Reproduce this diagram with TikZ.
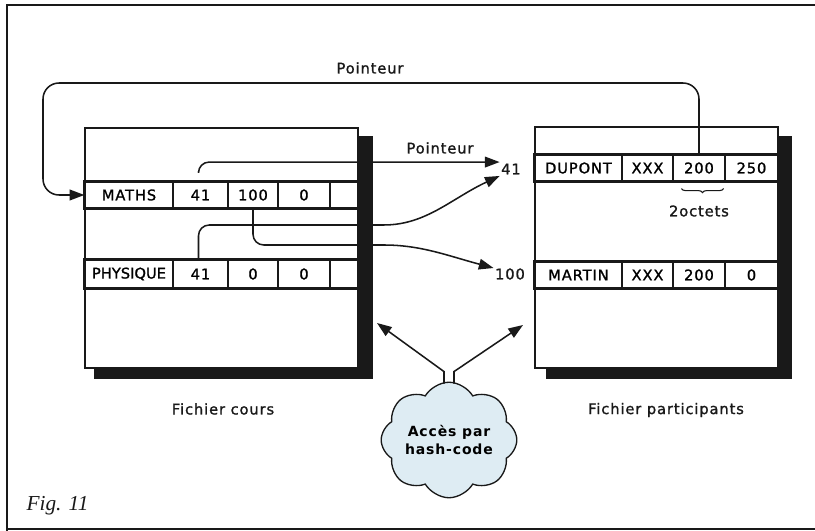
\documentclass[tikz,border=0pt]{standalone}
\usepackage{fontspec}
\setmainfont{DejaVu Sans}[LetterSpace=6, UprightFeatures={FakeBold=1.3}]
\newfontfamily\figfont{Liberation Serif}
\usetikzlibrary{arrows.meta,shapes.symbols,decorations.pathreplacing,calc}
\definecolor{ink}{RGB}{25,25,25}
\definecolor{cloudblue}{RGB}{222,236,243}
\begin{document}
\begin{tikzpicture}[x=0.75pt,y=-0.75pt,
  font=\fontsize{11}{13}\selectfont,
  cell/.style={draw=ink, line width=0.9pt, inner sep=0pt, minimum height={26*0.75pt}},
  rowline/.style={draw=ink, line width=1.8pt},
  filebox/.style={draw=ink, fill=white, line width=1.3pt, inner sep=0pt},
  shadow/.style={fill=ink},
  conn/.style={draw=ink, line width=1.15pt, -{Triangle[length=11pt,width=8pt]}},
  lab/.style={inner sep=1pt, text=ink}]
\useasboundingbox (0,0) rectangle (815,531);
% frame
\draw[ink, line width=1.5pt] (7,531) -- (7,5) -- (815,5);
\draw[ink, line width=1.5pt] (7,529) -- (815,529);
% file boxes
\node[filebox, minimum width={273*0.75pt}, minimum height={240*0.75pt}] (cours) at (221.5,248) {};
\node[filebox, minimum width={243*0.75pt}, minimum height={241*0.75pt}] (part) at (656.5,247.5) {};
% left rows
\node[cell, minimum width={88*0.75pt}] (maths) at (129,195) {MATHS};
\node[cell, minimum width={55*0.75pt}] (m41) at (200.5,195) {41};
\node[cell, minimum width={50*0.75pt}] (m100) at (253,195) {100};
\node[cell, minimum width={52*0.75pt}] (m0) at (304,195) {0};
\node[cell, minimum width={28*0.75pt}] (me) at (344,195) {};
\draw[rowline] (maths.north west) rectangle (me.south east);
\node[cell, minimum width={88*0.75pt}, minimum height={28*0.75pt}] (phys) at (129,274) {\addfontfeatures{LetterSpace=0}PHYSIQUE};
\node[cell, minimum width={55*0.75pt}, minimum height={28*0.75pt}] (p41) at (200.5,274) {41};
\node[cell, minimum width={50*0.75pt}, minimum height={28*0.75pt}] (p0a) at (253,274) {0};
\node[cell, minimum width={52*0.75pt}, minimum height={28*0.75pt}] (p0b) at (304,274) {0};
\node[cell, minimum width={28*0.75pt}, minimum height={28*0.75pt}] (pe) at (344,274) {};
\draw[rowline] (phys.north west) rectangle (pe.south east);
% right rows
\node[cell, minimum width={87*0.75pt}] (dup) at (578.5,168) {DUPONT};
\node[cell, minimum width={51*0.75pt}] (dx) at (647.5,168) {XXX};
\node[cell, minimum width={52*0.75pt}] (d200) at (699,168) {200};
\node[cell, minimum width={53*0.75pt}] (d250) at (751.5,168) {250};
\draw[rowline] (dup.north west) rectangle (d250.south east);
\node[cell, minimum width={87*0.75pt}] (mar) at (578.5,275) {MARTIN};
\node[cell, minimum width={51*0.75pt}] (mx) at (647.5,275) {XXX};
\node[cell, minimum width={52*0.75pt}] (m200) at (699,275) {200};
\node[cell, minimum width={53*0.75pt}] (mz) at (751.5,275) {0};
\draw[rowline] (mar.north west) rectangle (mz.south east);
% brace
\draw[ink, line width=0.8pt, decorate, decoration={brace, amplitude=3pt, mirror}]
  ($(d200.south west)+(9,7)$) -- ($(d200.south east)+(-2,7)$);
\node[lab] (oct) at (699,211) {2octets};
% labels
\node[lab] (ptop) at (370,68) {Pointeur};
\node[lab] (pmid) at (440,148) {Pointeur};
\node[lab] (l41) at (511,169) {41};
\node[lab] (l100) at (510,274) {100};
\node[lab] (fc) at (223,409) {Fichier cours};
\node[lab] (fp) at (666,410) {Fichier participants};
\node[lab, anchor=west, font=\figfont\itshape\fontsize{16}{18}\selectfont] (fig) at (25,506) {Fig. 11};
% cloud
\node[cloud, cloud puffs=8, cloud puff arc=120, aspect=1.3, draw=ink, fill=cloudblue,
  line width=1pt, minimum width={118*0.75pt}, minimum height={92*0.75pt}, inner sep=0pt,
  align=center, font=\bfseries\fontsize{10.5}{14}\selectfont] (hash) at (449,440) {Accès par\\hash-code};
% connectors
\coordinate (tl) at (43,83);
\draw[conn, rounded corners=12pt] (d200.north) |- (tl) |- (maths.west);
\draw[conn, rounded corners=8pt] ($(m41.north)+(-2,-10)$) |- (l41.north west);
\draw[conn, rounded corners=8pt] (m100.south) |- (373,245) to[out=0,in=165] ($(l100.west)+(0,-6)$);
\draw[conn, rounded corners=8pt] ($(p41.north)+(-2,0)$) |- (373,225) to[out=0,in=205] (l41.south west);
\coordinate (ha) at (377,323);
\coordinate (hb) at (523,325);
\draw[conn] ($(hash.north)+(-5,2)$) -- ++(0,-12) -- (ha);
\draw[conn] ($(hash.north)+(5,2)$) -- ++(0,-12) -- (hb);
% shadows
\fill[shadow] ($(cours.north east)+(0,9)$) rectangle ($(cours.south east)+(14,10)$);
\fill[shadow] ($(cours.south west)+(10,0)$) rectangle ($(cours.south east)+(14,10)$);
\fill[shadow] ($(part.north east)+(0,10)$) rectangle ($(part.south east)+(13,10)$);
\fill[shadow] ($(part.south west)+(12,0)$) rectangle ($(part.south east)+(13,10)$);
\end{tikzpicture}
\end{document}
